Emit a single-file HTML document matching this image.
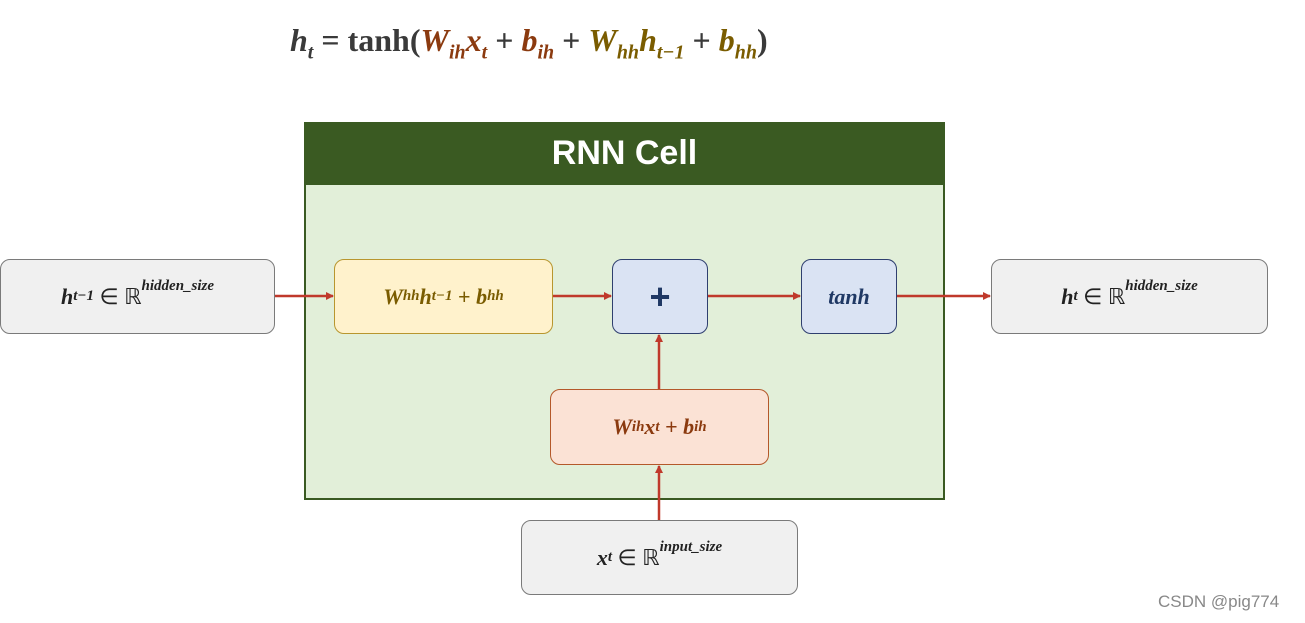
<!DOCTYPE html>
<html><head><meta charset="utf-8"><style>
body{margin:0;width:1305px;height:623px;background:#fff;position:relative;overflow:hidden;font-family:"Liberation Serif",serif}
.b{position:absolute;box-sizing:border-box;border-radius:10px;display:flex;align-items:center;justify-content:center;font-weight:bold;font-style:italic;font-size:22px}
.g{background:#f0f0f0;border:1.5px solid #7a7a7a;color:#222}
sub{font-size:15px}sup{font-size:15px}
.ln{position:absolute;background:#c0392b}
.ah{position:absolute;width:0;height:0}
</style></head><body>
<div style="position:absolute;left:290px;top:22px;font-size:32px;font-weight:bold;color:#3a3a3a;white-space:nowrap"><i>h<sub style="font-size:20px">t</sub></i> = tanh(<i style="color:#8b3a0f">W<sub style="font-size:20px">ih</sub>x<sub style="font-size:20px">t</sub></i> + <i style="color:#8b3a0f">b<sub style="font-size:20px">ih</sub></i> + <i style="color:#7a5c00">W<sub style="font-size:20px">hh</sub>h<sub style="font-size:20px">t−1</sub></i> + <i style="color:#7a5c00">b<sub style="font-size:20px">hh</sub></i>)</div>

<div style="position:absolute;left:304px;top:122px;width:641px;height:378px;box-sizing:border-box;border:2px solid #3a5a22;background:#e2efd9"></div>
<div style="position:absolute;left:304px;top:122px;width:641px;height:63px;background:#3a5a22;color:#fff;font-family:'Liberation Sans',sans-serif;font-weight:bold;font-size:34px;display:flex;align-items:center;justify-content:center">RNN Cell</div>

<div class="b g" style="left:0;top:259px;width:275px;height:75px">h<sub>t−1</sub>&nbsp;<span style="font-style:normal;font-weight:normal">∈ ℝ</span><sup style="position:relative;top:-10px">hidden_size</sup></div>
<div class="b" style="left:334px;top:259px;width:219px;height:75px;background:#fff2cc;border:1.5px solid #b8962e;color:#7a5c00">W<sub>hh</sub>h<sub>t−1</sub>&nbsp;<span style="font-style:normal">+</span>&nbsp;b<sub>hh</sub></div>
<div class="b" style="left:612px;top:259px;width:96px;height:75px;background:#dae3f3;border:1.5px solid #2f3f6f;color:#1f3864;font-style:normal;font-size:36px;font-family:'Liberation Sans',sans-serif">+</div>
<div class="b" style="left:801px;top:259px;width:96px;height:75px;background:#dae3f3;border:1.5px solid #2f3f6f;color:#1f3864">tanh</div>
<div class="b g" style="left:991px;top:259px;width:277px;height:75px">h<sub>t</sub>&nbsp;<span style="font-style:normal;font-weight:normal">∈ ℝ</span><sup style="position:relative;top:-10px">hidden_size</sup></div>
<div class="b" style="left:550px;top:389px;width:219px;height:76px;background:#fbe2d5;border:1.5px solid #b4582a;color:#8b3a0f">W<sub>ih</sub>x<sub>t</sub>&nbsp;<span style="font-style:normal">+</span>&nbsp;b<sub>ih</sub></div>
<div class="b g" style="left:521px;top:520px;width:277px;height:75px">x<sub>t</sub>&nbsp;<span style="font-style:normal;font-weight:normal">∈ ℝ</span><sup style="position:relative;top:-10px">input_size</sup></div>

<svg style="position:absolute;left:0;top:0" width="1305" height="623">
<defs><marker id="a" markerWidth="8" markerHeight="8" refX="7" refY="4" orient="auto" markerUnits="userSpaceOnUse"><path d="M0,0L8,4L0,8z" fill="#c0392b"/></marker></defs>
<g stroke="#c0392b" stroke-width="2.5" marker-end="url(#a)">
<line x1="275" y1="296" x2="333" y2="296"/>
<line x1="553" y1="296" x2="611" y2="296"/>
<line x1="708" y1="296" x2="800" y2="296"/>
<line x1="897" y1="296" x2="990" y2="296"/>
<line x1="659" y1="389" x2="659" y2="335"/>
<line x1="659" y1="520" x2="659" y2="466"/>
</g></svg>
<div style="position:absolute;left:1158px;top:592px;font-family:'Liberation Sans',sans-serif;font-size:17px;color:#888">CSDN @pig774</div>
</body></html>
